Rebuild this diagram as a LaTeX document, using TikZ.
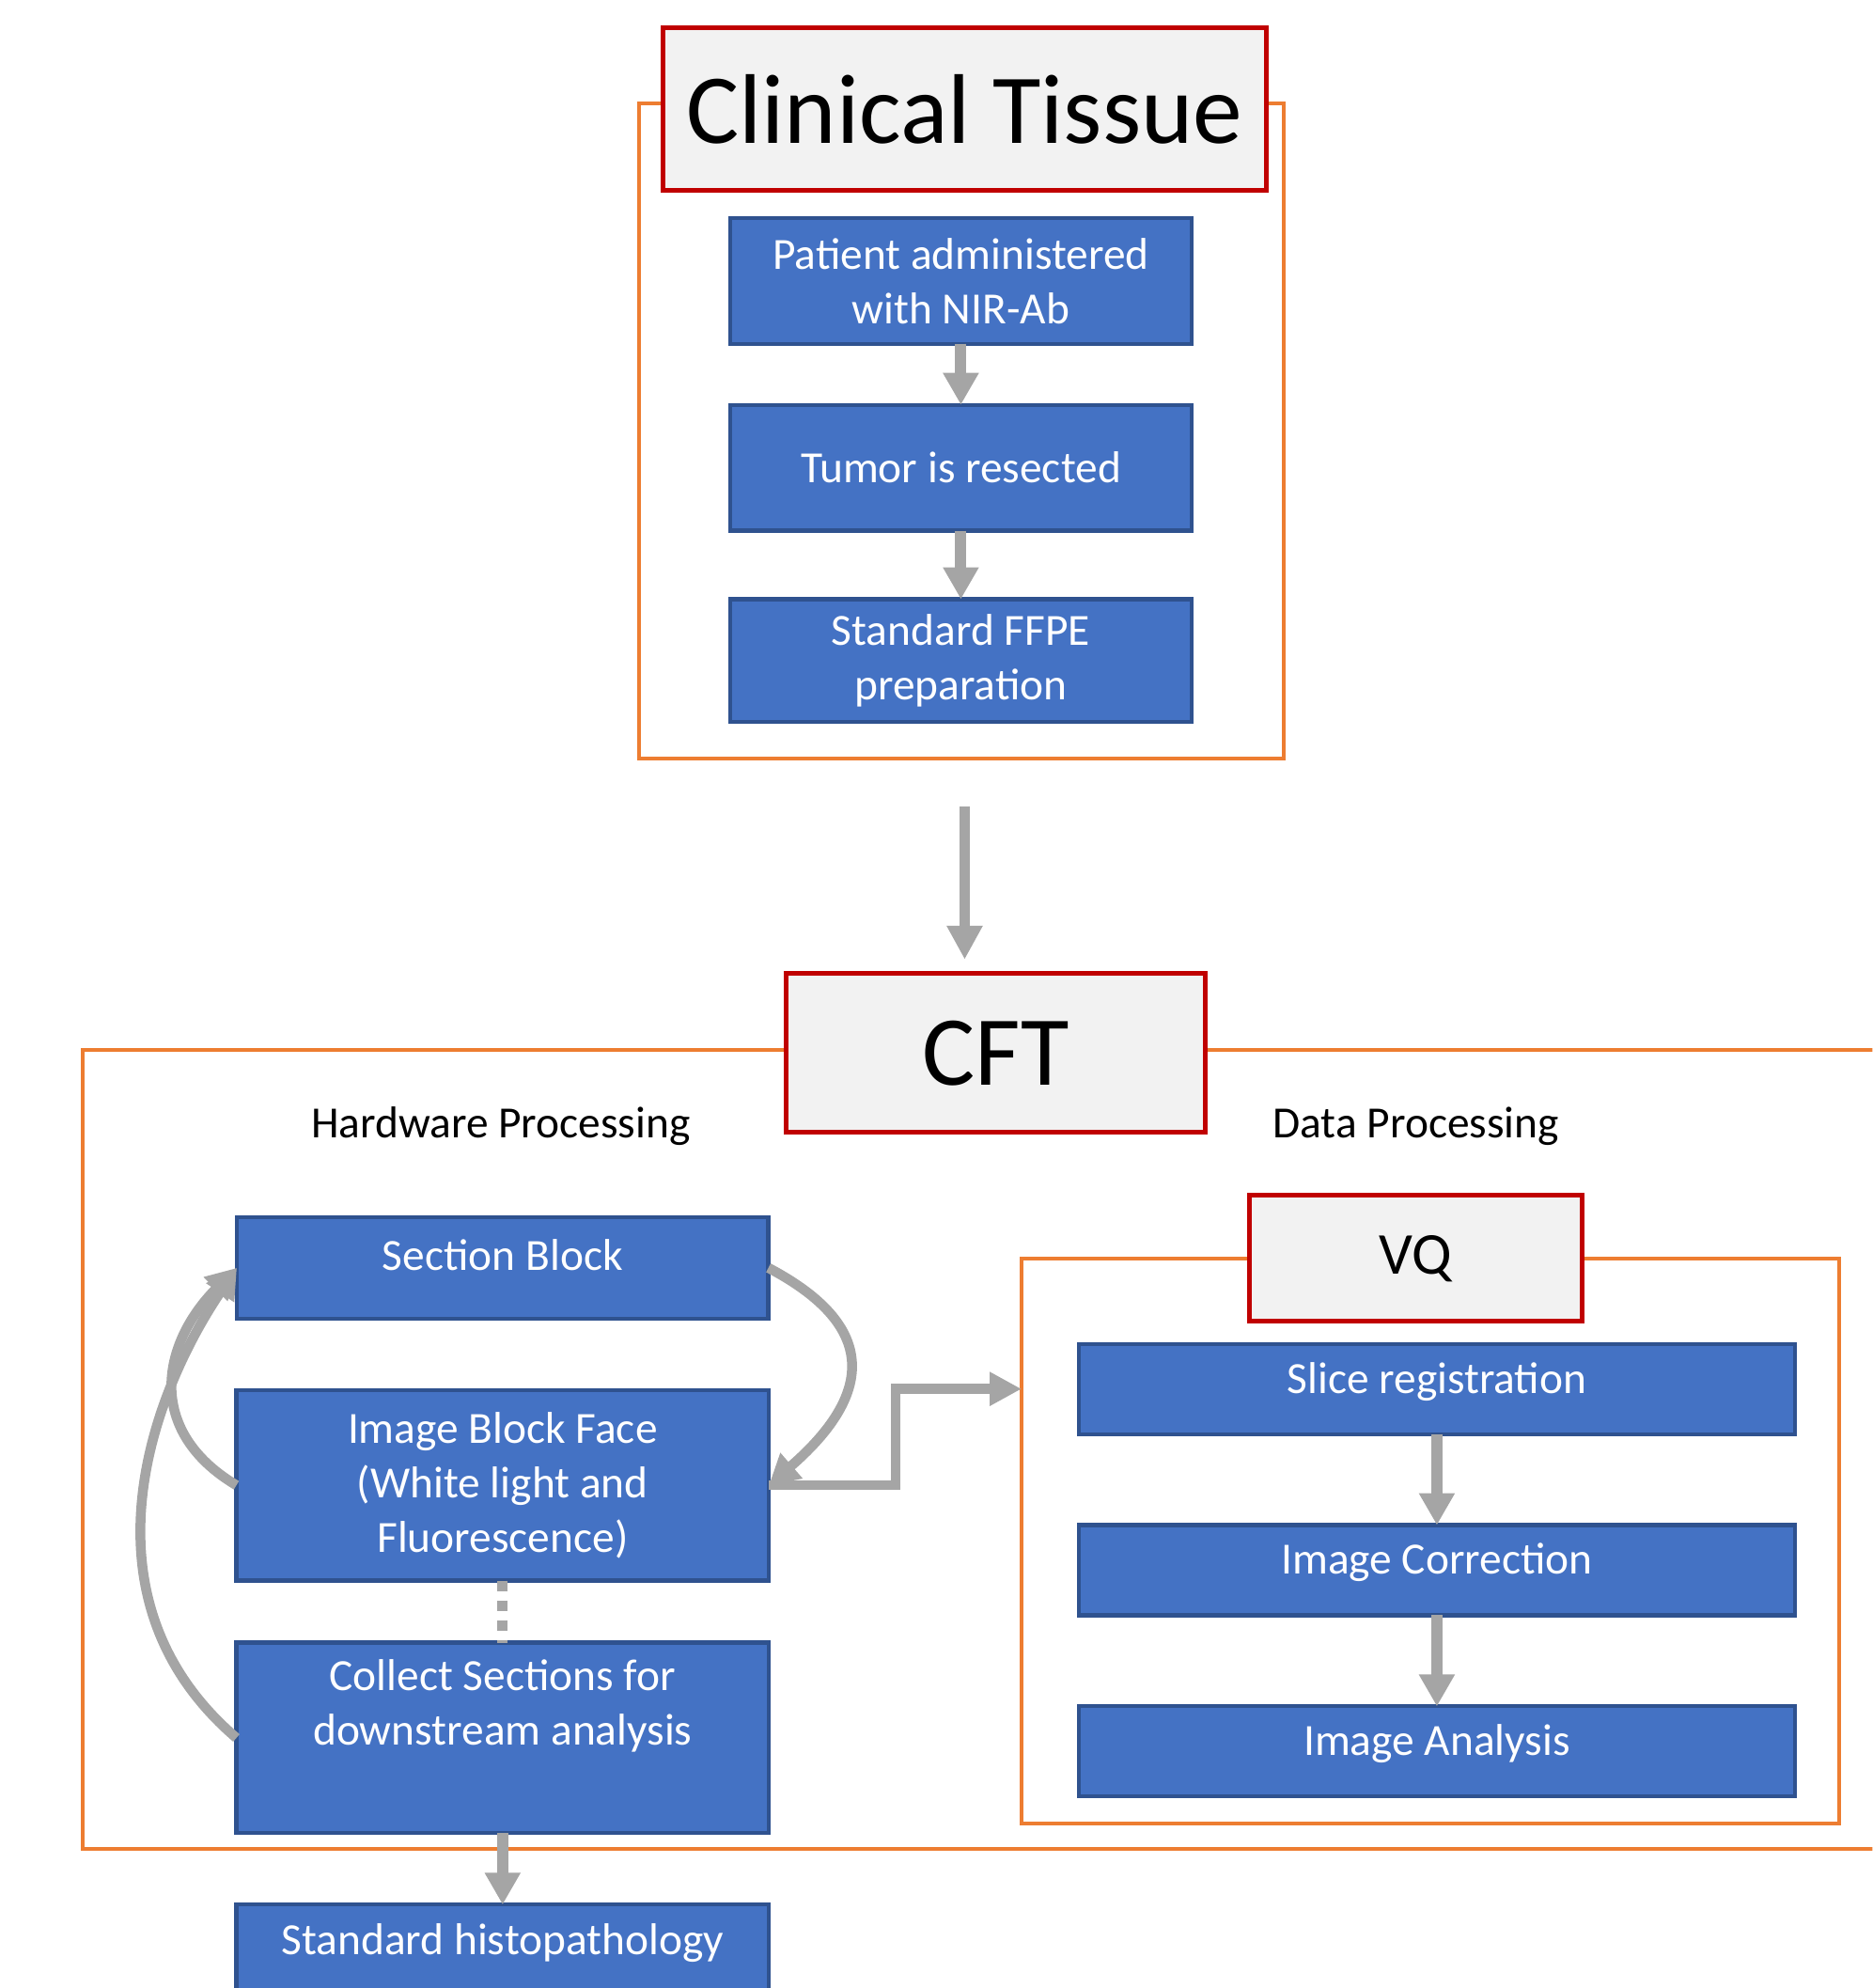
\documentclass[tikz,border=0pt]{standalone}
\usepackage{fontspec}
\setmainfont{Carlito}
\usetikzlibrary{positioning, arrows.meta}
\definecolor{stepBlue}{HTML}{4472C4}
\definecolor{stepEdge}{HTML}{2F528F}
\definecolor{frameOrange}{HTML}{ED7D31}
\definecolor{titleRed}{HTML}{C00000}
\definecolor{titleBg}{HTML}{F2F2F2}
\definecolor{arrowGrey}{HTML}{A5A5A5}

\begin{document}
\begin{tikzpicture}[x=0.135mm, y=0.135mm,
        every node/.style={font=\fontsize{13.5}{16.5}\selectfont},
        stepbox/.style={rectangle, draw=stepEdge, line width=1.2pt, fill=stepBlue,
                        text=white, align=center, inner sep=0pt, outer sep=0pt},
        ctstep/.style={stepbox, minimum width=49.1mm, minimum height=13.4mm},
        hwstep/.style={stepbox, minimum width=56.7mm, minimum height=20.3mm},
        vqstep/.style={stepbox, minimum width=76.3mm, minimum height=9.6mm, text depth=2.4mm},
        titlebox/.style={rectangle, draw=titleRed, line width=1.5pt, fill=titleBg,
                         inner sep=0pt, outer sep=0pt},
        framebox/.style={rectangle, draw=frameOrange, line width=1.2pt,
                         inner sep=0pt, outer sep=0pt},
        arr/.style={-{Triangle[length=3.4mm, width=3.6mm]}, arrowGrey, line width=1.2mm},
        bigarr/.style={-{Triangle[length=3.6mm, width=3.6mm]}, arrowGrey, line width=1.1mm},
        loopar/.style={-{Triangle[length=3.2mm, width=3.4mm]}, arrowGrey, line width=1.05mm},
        dotline/.style={arrowGrey, line width=1.1mm, dash pattern=on 1.1mm off 1mm},
      ]
        \useasboundingbox (0,0) rectangle (1477,1568);
        \clip (0,0) rectangle (1477,1568);

        % Clinical tissue stage
        \node[framebox, minimum width=68.7mm, minimum height=69.7mm] (ctframe) at (758.5,1228) {};
        \node[titlebox, minimum width=64.3mm, minimum height=17.3mm,
              font=\fontsize{30}{36}\selectfont] (cttitle) at (761,1482) {Clinical Tissue};
        \node[ctstep] (patient) at (758,1346.5) {Patient administered\\with NIR-Ab};
        \node[ctstep, below=6.5mm of patient] (tumor) {Tumor is resected};
        \node[ctstep, minimum height=13.1mm, below=7.3mm of tumor] (ffpe) {Standard FFPE\\preparation};

        \draw[arr] (patient.south) -- (tumor.north);
        \draw[arr] (tumor.south) -- (ffpe.north);

        % CFT stage
        \draw[framebox] (65,740) rectangle (1490,110);
        \node[titlebox, minimum width=44.7mm, minimum height=16.9mm,
              font=\fontsize{30}{36}\selectfont] (cfttitle) at (785.5,737.5) {CFT};
        \draw[bigarr, shorten <=5.1mm, shorten >=1.5mm]
          (cttitle.center |- ctframe.south) -- (cttitle.center |- cfttitle.north);

        \node (hwlabel) at (395,680) {Hardware Processing};
        \node (datalabel) at (1117,680) {Data Processing};

        % Hardware processing loop
        \node[hwstep, minimum width=56.6mm, minimum height=10.8mm, text depth=2.7mm]
          (section) at (396.5,568) {Section Block};
        \node[hwstep, below=7.6mm of section] (imgface) {Image Block Face\\(White light and\\Fluorescence)};
        \node[hwstep, below=6.6mm of imgface, text depth=7.5mm] (collect) {Collect Sections for\\downstream analysis};
        \node[hwstep, minimum height=13.4mm, text depth=6mm, below=7.6mm of collect] (histo) {Standard histopathology};

        \draw[loopar] (section.east) .. controls +(95,-50) and +(75,65) .. (imgface.east);
        \draw[loopar] (imgface.west) .. controls +(-72,43) and +(-60,-60) .. (section.west);
        \draw[loopar] (collect.west) .. controls +(-125,107) and +(-71,-105) .. (section.west);
        \draw[dotline] (imgface.south) -- (collect.north);
        \draw[arr] (collect.south) -- (histo.north);

        % VQ data processing
        \node[framebox, minimum width=87.1mm, minimum height=60.1mm] (vqframe) at (1128.5,352.5) {};
        \node[titlebox, minimum width=35.4mm, minimum height=13.4mm,
              font=\fontsize{18}{22}\selectfont] (vqtitle) at (1117,575.5) {VQ};
        \node[vqstep] (slicereg) at (1133.5,472.5) {Slice registration};
        \node[vqstep, below=9.7mm of slicereg] (imgcorr) {Image Correction};
        \node[vqstep, below=9.7mm of imgcorr] (imganalysis) {Image Analysis};

        \draw[arr] (slicereg.south) -- (imgcorr.north);
        \draw[arr] (imgcorr.south) -- (imganalysis.north);

        \coordinate (vqin) at (vqframe.west |- slicereg.center);
        \draw[loopar, -{Triangle[length=3.4mm, width=3.4mm]}] (imgface.east) -- ++(100,0) |- (vqin);
      \end{tikzpicture}
\end{document}
